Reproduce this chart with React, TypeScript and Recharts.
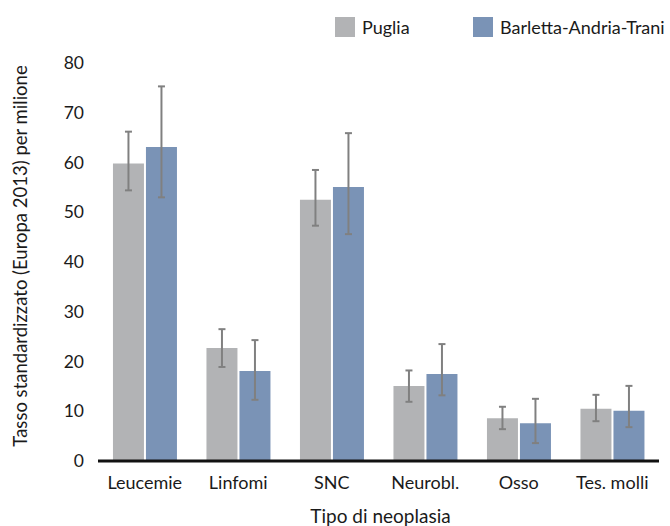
import { Bar, BarChart, ErrorBar, XAxis, YAxis } from 'recharts'

const CATEGORIES = ['Leucemie', 'Linfomi', 'SNC', 'Neurobl.', 'Osso', 'Tes. molli']

const PUGLIA = [59.8, 22.7, 52.5, 15.1, 8.6, 10.5]
const PUGLIA_LOW = [54.4, 18.9, 47.3, 11.9, 6.4, 8.0]
const PUGLIA_HIGH = [66.2, 26.5, 58.5, 18.2, 10.9, 13.3]

const BAT = [63.1, 18.1, 55.1, 17.5, 7.6, 10.1]
const BAT_LOW = [53.0, 12.3, 45.6, 13.2, 3.6, 6.8]
const BAT_HIGH = [75.3, 24.3, 65.9, 23.5, 12.5, 15.1]

const Y_TICKS = [0, 10, 20, 30, 40, 50, 60, 70, 80]

const GREY = '#b2b3b5'
const BLUE = '#7a93b6'
const FONT = 'Lato, "Noto Sans", sans-serif'

const data = CATEGORIES.map((name, i) => ({
  name,
  puglia: PUGLIA[i],
  pugliaErr: [PUGLIA[i] - PUGLIA_LOW[i], PUGLIA_HIGH[i] - PUGLIA[i]],
  bat: BAT[i],
  batErr: [BAT[i] - BAT_LOW[i], BAT_HIGH[i] - BAT[i]],
}))

const YTitle = ({ viewBox }: any) => {
  const cx = 27
  const cy = viewBox.y + viewBox.height / 2 - 6
  return (
    <text
      x={cx}
      y={cy}
      transform={`rotate(-90 ${cx} ${cy})`}
      textAnchor="middle"
      fontSize={18.5}
      fill="#1a1a1a"
      fontFamily={FONT}
    >
      Tasso standardizzato (Europa 2013) per milione
    </text>
  )
}

const XTitle = ({ viewBox }: any) => (
  <text
    x={viewBox.x + viewBox.width / 2 + 2}
    y={523}
    textAnchor="middle"
    fontSize={19}
    fill="#1a1a1a"
    fontFamily={FONT}
  >
    Tipo di neoplasia
  </text>
)

export default function App() {
  return (
    <div style={{ position: 'absolute', left: 0, top: 0, width: 670, height: 526, background: '#fff', fontFamily: FONT }}>
      <BarChart
        width={670}
        height={526}
        data={data}
        margin={{ top: 63, right: 11, left: 38, bottom: 35 }}
        barCategoryGap="16%"
        barGap={2}
      >
        <XAxis
          dataKey="name"
          height={30}
          tickLine={false}
          tickMargin={9}
          axisLine={{ stroke: '#111', strokeWidth: 3 }}
          tick={{ fontSize: 18, fill: '#1a1a1a', fontFamily: FONT }}
          interval={0}
          label={<XTitle />}
        />
        <YAxis
          width={60}
          domain={[0, 80]}
          ticks={Y_TICKS}
          axisLine={false}
          tickLine={false}
          tickSize={0}
          tickMargin={14}
          tick={{ fontSize: 17.5, fill: '#1a1a1a', fontFamily: FONT }}
          label={<YTitle />}
        />
        <Bar dataKey="puglia" fill={GREY} isAnimationActive={false}>
          <ErrorBar dataKey="pugliaErr" width={3.5} stroke="#808080" strokeWidth={2} />
        </Bar>
        <Bar dataKey="bat" fill={BLUE} isAnimationActive={false}>
          <ErrorBar dataKey="batErr" width={3.5} stroke="#808080" strokeWidth={2} />
        </Bar>
      </BarChart>
      <div style={{ position: 'absolute', top: 16, left: 335, display: 'flex', alignItems: 'center', fontSize: 18, color: '#1a1a1a', lineHeight: '22px' }}>
        <span style={{ width: 20, height: 20, background: GREY, display: 'inline-block', marginRight: 7 }} />
        <span>Puglia</span>
      </div>
      <div style={{ position: 'absolute', top: 16, left: 473, display: 'flex', alignItems: 'center', fontSize: 18, color: '#1a1a1a', lineHeight: '22px' }}>
        <span style={{ width: 20, height: 20, background: BLUE, display: 'inline-block', marginRight: 7 }} />
        <span>Barletta-Andria-Trani</span>
      </div>
    </div>
  )
}
